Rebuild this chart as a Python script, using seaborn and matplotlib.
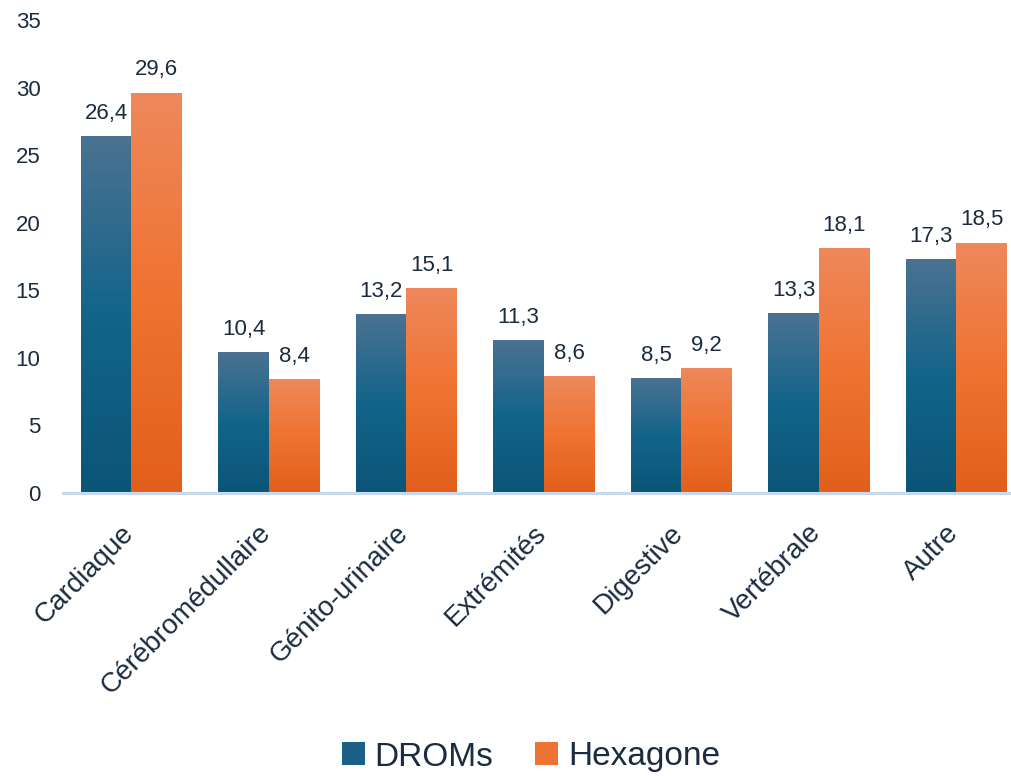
import numpy as np
import pandas as pd
import matplotlib
matplotlib.use("Agg")
import matplotlib.pyplot as plt
import seaborn as sns
from matplotlib.colors import LinearSegmentedColormap
from matplotlib.patches import Patch
import matplotlib.transforms as mtransforms

categories = ["Cardiaque", "Cérébromédullaire", "Génito-urinaire", "Extrémités",
              "Digestive", "Vertébrale", "Autre"]
droms = [26.4, 10.4, 13.2, 11.3, 8.5, 13.3, 17.3]
hexagone = [29.6, 8.4, 15.1, 8.6, 9.2, 18.1, 18.5]
series_names = ["DROMs", "Hexagone"]
y_ticks = [0, 5, 10, 15, 20, 25, 30, 35]

df = pd.DataFrame({
    "cat": categories * 2,
    "val": droms + hexagone,
    "serie": [series_names[0]] * len(categories) + [series_names[1]] * len(categories),
})

sns.set_theme(style="white")
plt.rcParams['font.family'] = ['Liberation Sans', 'DejaVu Sans']
TXT = "#1b2b40"

fig = plt.figure(figsize=(10.12, 7.76), dpi=100)
ax = fig.add_axes([0.062, 0.3647, 0.951, 0.6095])

blue_mid = "#13628a"
orange_mid = "#ef7231"
sns.barplot(data=df, x="cat", y="val", hue="serie", order=categories,
            hue_order=series_names, palette=[blue_mid, orange_mid],
            width=0.735, ax=ax, legend=False, errorbar=None, saturation=1)

cmaps = [
    LinearSegmentedColormap.from_list("b", ["#0b5577", "#13648a", "#4b7291"]),
    LinearSegmentedColormap.from_list("o", ["#e25f1b", "#f07331", "#ee885b"]),
]
grad = np.linspace(0, 1, 256).reshape(-1, 1)
for container, cmap in zip(ax.containers, cmaps):
    for bar in container:
        x, y = bar.get_x(), bar.get_y()
        w, h = bar.get_width(), bar.get_height()
        ax.imshow(grad, extent=[x, x + w, y, y + h], origin="lower",
                  cmap=cmap, aspect="auto", zorder=2, interpolation="bilinear")
        bar.set_facecolor("none")
        bar.set_edgecolor("none")

for container, vals in zip(ax.containers, [droms, hexagone]):
    ax.bar_label(container, labels=[f"{v:.1f}".replace(".", ",") for v in vals],
                 padding=9, fontsize=16, color=TXT)

ax.set_xlim(-0.5, len(categories) - 0.5)
ax.set_ylim(0, 35)
ax.set_yticks(y_ticks)
ax.set_yticklabels([str(t) for t in y_ticks], fontsize=16, color=TXT)
ax.set_xlabel("")
ax.set_ylabel("")
for s in ["top", "right", "left"]:
    ax.spines[s].set_visible(False)
ax.spines["bottom"].set_color("#c6d9ef")
ax.spines["bottom"].set_linewidth(2.2)
ax.tick_params(axis="y", length=0, pad=16)
ax.tick_params(axis="x", length=0, pad=26)
ax.set_xticks(range(len(categories)))
ax.set_xticklabels(categories, rotation=45, ha="right", va="center",
                   rotation_mode="anchor", fontsize=20, color=TXT)
off = mtransforms.ScaledTranslation(-1.5 / 72, 0, fig.dpi_scale_trans)
for lab in ax.get_xticklabels():
    lab.set_transform(lab.get_transform() + off)

handles = [Patch(facecolor="#1a6088", edgecolor="none"),
           Patch(facecolor="#ee7436", edgecolor="none")]
fig.legend(handles, series_names, loc="center", bbox_to_anchor=(531 / 1012, 19 / 776),
           ncol=2, frameon=False, fontsize=24, handlelength=0.69, handleheight=0.69,
           handletextpad=0.3, columnspacing=1.25, labelcolor=TXT)

fig.savefig("out.png", dpi=100)
